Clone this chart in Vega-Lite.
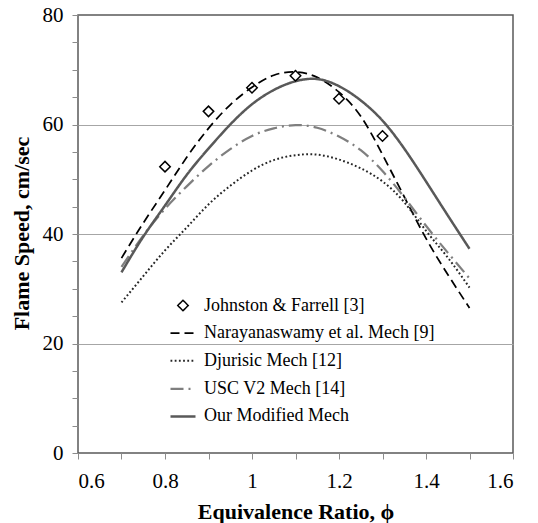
{
  "$schema": "https://vega.github.io/schema/vega-lite/v6.json",
  "width": 435,
  "height": 438,
  "autosize": {"type": "none"},
  "padding": {"left": 78, "top": 15, "right": 25, "bottom": 70},
  "background": "white",
  "config": {
    "view": {"stroke": "#595959", "strokeWidth": 1.5},
    "font": "Liberation Serif",
    "axis": {
      "domain": false,
      "labelFont": "Liberation Serif",
      "labelFontSize": 21,
      "labelColor": "black",
      "tickColor": "#8c8c8c",
      "tickSize": 6,
      "tickWidth": 1,
      "titleFont": "Liberation Serif",
      "titleFontSize": 22,
      "titleFontWeight": "bold",
      "titleColor": "black"
    },
    "legend": {"labelFont": "Liberation Serif", "labelFontSize": 18, "labelColor": "black"}
  },
  "datasets": {
    "curves": [
      {"series": "Narayanaswamy et al. Mech [9]", "phi": 0.70, "speed": 35.6},
      {"series": "Narayanaswamy et al. Mech [9]", "phi": 0.75, "speed": 42.0},
      {"series": "Narayanaswamy et al. Mech [9]", "phi": 0.80, "speed": 48.0},
      {"series": "Narayanaswamy et al. Mech [9]", "phi": 0.85, "speed": 54.0},
      {"series": "Narayanaswamy et al. Mech [9]", "phi": 0.90, "speed": 59.3},
      {"series": "Narayanaswamy et al. Mech [9]", "phi": 0.95, "speed": 63.6},
      {"series": "Narayanaswamy et al. Mech [9]", "phi": 1.00, "speed": 66.8},
      {"series": "Narayanaswamy et al. Mech [9]", "phi": 1.05, "speed": 69.0},
      {"series": "Narayanaswamy et al. Mech [9]", "phi": 1.10, "speed": 69.6},
      {"series": "Narayanaswamy et al. Mech [9]", "phi": 1.15, "speed": 68.6},
      {"series": "Narayanaswamy et al. Mech [9]", "phi": 1.20, "speed": 65.9},
      {"series": "Narayanaswamy et al. Mech [9]", "phi": 1.25, "speed": 61.5},
      {"series": "Narayanaswamy et al. Mech [9]", "phi": 1.30, "speed": 54.5},
      {"series": "Narayanaswamy et al. Mech [9]", "phi": 1.35, "speed": 46.8},
      {"series": "Narayanaswamy et al. Mech [9]", "phi": 1.40, "speed": 39.2},
      {"series": "Narayanaswamy et al. Mech [9]", "phi": 1.45, "speed": 32.6},
      {"series": "Narayanaswamy et al. Mech [9]", "phi": 1.50, "speed": 26.5},
      {"series": "Djurisic Mech [12]", "phi": 0.70, "speed": 27.5},
      {"series": "Djurisic Mech [12]", "phi": 0.75, "speed": 32.3},
      {"series": "Djurisic Mech [12]", "phi": 0.80, "speed": 37.0},
      {"series": "Djurisic Mech [12]", "phi": 0.85, "speed": 41.2},
      {"series": "Djurisic Mech [12]", "phi": 0.90, "speed": 45.4},
      {"series": "Djurisic Mech [12]", "phi": 0.95, "speed": 48.8},
      {"series": "Djurisic Mech [12]", "phi": 1.00, "speed": 51.6},
      {"series": "Djurisic Mech [12]", "phi": 1.05, "speed": 53.5},
      {"series": "Djurisic Mech [12]", "phi": 1.10, "speed": 54.4},
      {"series": "Djurisic Mech [12]", "phi": 1.15, "speed": 54.5},
      {"series": "Djurisic Mech [12]", "phi": 1.20, "speed": 53.6},
      {"series": "Djurisic Mech [12]", "phi": 1.25, "speed": 52.0},
      {"series": "Djurisic Mech [12]", "phi": 1.30, "speed": 49.6},
      {"series": "Djurisic Mech [12]", "phi": 1.35, "speed": 45.8},
      {"series": "Djurisic Mech [12]", "phi": 1.40, "speed": 40.6},
      {"series": "Djurisic Mech [12]", "phi": 1.45, "speed": 35.7},
      {"series": "Djurisic Mech [12]", "phi": 1.50, "speed": 30.2},
      {"series": "USC V2 Mech [14]", "phi": 0.70, "speed": 34.0},
      {"series": "USC V2 Mech [14]", "phi": 0.75, "speed": 39.7},
      {"series": "USC V2 Mech [14]", "phi": 0.80, "speed": 44.6},
      {"series": "USC V2 Mech [14]", "phi": 0.85, "speed": 48.7},
      {"series": "USC V2 Mech [14]", "phi": 0.90, "speed": 52.4},
      {"series": "USC V2 Mech [14]", "phi": 0.95, "speed": 55.5},
      {"series": "USC V2 Mech [14]", "phi": 1.00, "speed": 57.9},
      {"series": "USC V2 Mech [14]", "phi": 1.05, "speed": 59.3},
      {"series": "USC V2 Mech [14]", "phi": 1.10, "speed": 59.9},
      {"series": "USC V2 Mech [14]", "phi": 1.15, "speed": 59.4},
      {"series": "USC V2 Mech [14]", "phi": 1.20, "speed": 57.8},
      {"series": "USC V2 Mech [14]", "phi": 1.25, "speed": 55.3},
      {"series": "USC V2 Mech [14]", "phi": 1.30, "speed": 51.5},
      {"series": "USC V2 Mech [14]", "phi": 1.35, "speed": 46.7},
      {"series": "USC V2 Mech [14]", "phi": 1.40, "speed": 41.5},
      {"series": "USC V2 Mech [14]", "phi": 1.45, "speed": 36.6},
      {"series": "USC V2 Mech [14]", "phi": 1.50, "speed": 31.9},
      {"series": "Our Modified Mech", "phi": 0.70, "speed": 33.0},
      {"series": "Our Modified Mech", "phi": 0.75, "speed": 39.5},
      {"series": "Our Modified Mech", "phi": 0.80, "speed": 45.2},
      {"series": "Our Modified Mech", "phi": 0.85, "speed": 50.8},
      {"series": "Our Modified Mech", "phi": 0.90, "speed": 55.6},
      {"series": "Our Modified Mech", "phi": 0.95, "speed": 60.0},
      {"series": "Our Modified Mech", "phi": 1.00, "speed": 63.7},
      {"series": "Our Modified Mech", "phi": 1.05, "speed": 66.3},
      {"series": "Our Modified Mech", "phi": 1.10, "speed": 67.9},
      {"series": "Our Modified Mech", "phi": 1.15, "speed": 68.3},
      {"series": "Our Modified Mech", "phi": 1.20, "speed": 67.0},
      {"series": "Our Modified Mech", "phi": 1.25, "speed": 64.4},
      {"series": "Our Modified Mech", "phi": 1.30, "speed": 60.7},
      {"series": "Our Modified Mech", "phi": 1.35, "speed": 55.6},
      {"series": "Our Modified Mech", "phi": 1.40, "speed": 49.6},
      {"series": "Our Modified Mech", "phi": 1.45, "speed": 43.4},
      {"series": "Our Modified Mech", "phi": 1.50, "speed": 37.3}
    ],
    "exp": [
      {"series": "Johnston & Farrell [3]", "phi": 0.8, "speed": 52.3},
      {"series": "Johnston & Farrell [3]", "phi": 0.9, "speed": 62.4},
      {"series": "Johnston & Farrell [3]", "phi": 1.0, "speed": 66.7},
      {"series": "Johnston & Farrell [3]", "phi": 1.1, "speed": 68.9},
      {"series": "Johnston & Farrell [3]", "phi": 1.2, "speed": 64.7},
      {"series": "Johnston & Farrell [3]", "phi": 1.3, "speed": 57.9}
    ]
  },
  "encoding": {
    "x": {
      "field": "phi",
      "type": "quantitative",
      "title": "Equivalence Ratio, ϕ",
      "scale": {"domain": [0.6, 1.6], "nice": false, "zero": false},
      "axis": {
        "values": [0.6, 0.7, 0.8, 0.9, 1.0, 1.1, 1.2, 1.3, 1.4, 1.5, 1.6],
        "labelExpr": "abs(round(datum.value * 10)) % 2 == 0 ? format(datum.value, '~g') : ''",
        "grid": false,
        "labelPadding": 11,
        "titleY": 65,
        "titleBaseline": "alphabetic"
      }
    },
    "y": {
      "field": "speed",
      "type": "quantitative",
      "title": "Flame Speed, cm/sec",
      "scale": {"domain": [0, 80], "nice": false},
      "axis": {
        "values": [0, 5, 10, 15, 20, 25, 30, 35, 40, 45, 50, 55, 60, 65, 70, 75, 80],
        "labelExpr": "datum.value % 20 == 0 ? format(datum.value, '~g') : ''",
        "grid": true,
        "gridColor": {"condition": {"test": "datum.value % 20 == 0 && datum.value > 0 && datum.value < 80", "value": "#a6a6a6"}, "value": "transparent"},
        "gridWidth": 1.2,
        "labelPadding": 9,
        "titleX": -50,
        "titleY": 218,
        "titleBaseline": "alphabetic"
      }
    }
  },
  "layer": [
    {
      "data": {"name": "curves"},
      "mark": {"type": "line", "interpolate": "natural"},
      "encoding": {
        "color": {
          "field": "series",
          "type": "nominal",
          "scale": {
            "domain": ["Johnston & Farrell [3]", "Narayanaswamy et al. Mech [9]", "Djurisic Mech [12]", "USC V2 Mech [14]", "Our Modified Mech"],
            "range": ["black", "black", "#262626", "#7f7f7f", "#595959"]
          },
          "legend": {
            "title": null,
            "orient": "none",
            "legendX": 91,
            "legendY": 277,
            "padding": 0,
            "symbolSize": 625,
            "symbolType": "stroke",
            "symbolStrokeWidth": 2,
            "labelFontSize": 18,
            "labelColor": "black",
            "labelOffset": 7,
            "labelLimit": 400,
            "rowPadding": 4.6,
            "encode": {
              "symbols": {
                "update": {
                  "shape": {"signal": "datum.value === 'Johnston & Farrell [3]' ? 'diamond' : 'stroke'"},
                  "size": {"signal": "datum.value === 'Johnston & Farrell [3]' ? 110 : 625"},
                  "strokeWidth": {"signal": "datum.value === 'Johnston & Farrell [3]' ? 1.5 : (datum.value === 'Narayanaswamy et al. Mech [9]' ? 2.5 : (datum.value === 'Djurisic Mech [12]' ? 1.8 : 2))"},
                  "fill": {"value": "transparent"}
                }
              }
            }
          }
        },
        "strokeDash": {
          "field": "series",
          "type": "nominal",
          "scale": {
            "domain": ["Johnston & Farrell [3]", "Narayanaswamy et al. Mech [9]", "Djurisic Mech [12]", "USC V2 Mech [14]", "Our Modified Mech"],
            "range": [[1, 0], [9, 5], [1.8, 2.4], [13, 5, 2, 5], [1, 0]]
          },
          "legend": {
            "title": null,
            "orient": "none",
            "legendX": 91,
            "legendY": 277,
            "padding": 0,
            "symbolSize": 625,
            "symbolType": "stroke",
            "symbolStrokeWidth": 2,
            "labelFontSize": 18,
            "labelColor": "black",
            "labelOffset": 7,
            "labelLimit": 400,
            "rowPadding": 4.6
          }
        },
        "strokeWidth": {
          "field": "series",
          "type": "nominal",
          "scale": {
            "domain": ["Johnston & Farrell [3]", "Narayanaswamy et al. Mech [9]", "Djurisic Mech [12]", "USC V2 Mech [14]", "Our Modified Mech"],
            "range": [1.5, 2.5, 1.8, 2, 2]
          },
          "legend": null
        }
      }
    },
    {
      "data": {"name": "exp"},
      "mark": {"type": "point", "shape": "diamond", "filled": false, "stroke": "black", "strokeWidth": 1.5, "size": 110, "opacity": 1}
    }
  ]
}
